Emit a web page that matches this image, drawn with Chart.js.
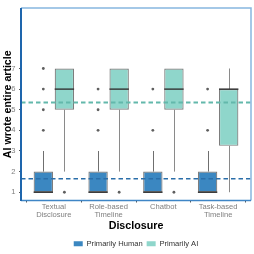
<!DOCTYPE html>
<html><head><meta charset="utf-8">
<script src="https://cdn.jsdelivr.net/npm/chart.js@4"></script>
<style>html,body{margin:0;padding:0;background:#fff}#wrap{width:254px;height:254px}</style>
</head><body><div id="wrap"><canvas id="c" width="254" height="254"></canvas></div>
<script>
const categories = [["Textual","Disclosure"],["Role-based","Timeline"],["Chatbot"],["Task-based","Timeline"]];
const seriesNames = ["Primarily Human","Primarily AI"];
const yTicks = [1,2,3,4,5,6,7];

const humanQ1 = [1,1,1,1];
const humanMedian = [1,1,1,1];
const humanQ3 = [2,2,2,2];
const humanLow = [1,1,1,1];
const humanHigh = [3,3,3,3];
const humanOutliers = [[4,5,6,7],[4,5,6],[4,6],[4,6]];
const humanMean = 1.66;

const aiQ1 = [5,5,5,3.25];
const aiMedian = [6,6,6,6];
const aiQ3 = [7,7,7,6];
const aiLow = [2,2,2,1];
const aiHigh = [7,7,7,7];
const aiOutliers = [[1],[1],[1],[]];
const aiMean = 5.35;

const FONT = "'Liberation Sans', Arial, sans-serif";
const groups = [
  {q1:humanQ1, med:humanMedian, q3:humanQ3, lo:humanLow, hi:humanHigh, out:humanOutliers, mean:humanMean,
   fill:'#3b87c1', whisker:'#6f6f6f', dash:'#2a6ea9', dashW:1.5},
  {q1:aiQ1, med:aiMedian, q3:aiQ3, lo:aiLow, hi:aiHigh, out:aiOutliers, mean:aiMean,
   fill:'#8fd6cb', whisker:'#8a8a8a', dash:'#63b8ab', dashW:1.9}
];

const boxExtras = {
  id:'boxExtras',
  beforeDatasetsDraw(chart){
    const ctx=chart.ctx, ys=chart.scales.y;
    ctx.save();
    groups.forEach((g,di)=>{
      chart.getDatasetMeta(di).data.forEach((bar,i)=>{
        const x=Math.round(bar.x)+0.5;
        ctx.strokeStyle=g.whisker; ctx.lineWidth=1;
        ctx.beginPath();
        ctx.moveTo(x, ys.getPixelForValue(g.q3[i])); ctx.lineTo(x, ys.getPixelForValue(g.hi[i]));
        ctx.moveTo(x, ys.getPixelForValue(g.q1[i])); ctx.lineTo(x, ys.getPixelForValue(g.lo[i]));
        ctx.stroke();
      });
    });
    ctx.restore();
  },
  afterDatasetsDraw(chart){
    const ctx=chart.ctx, ys=chart.scales.y, a=chart.chartArea;
    ctx.save();
    groups.forEach((g,di)=>{
      chart.getDatasetMeta(di).data.forEach((bar,i)=>{
        const x=bar.x, w=bar.width;
        ctx.strokeStyle='#333'; ctx.lineWidth=1.4;
        const my=ys.getPixelForValue(g.med[i]);
        ctx.beginPath(); ctx.moveTo(x-w/2,my); ctx.lineTo(x+w/2,my); ctx.stroke();
        ctx.fillStyle='#5f5f5f';
        g.out[i].forEach(v=>{
          ctx.beginPath(); ctx.arc(x, ys.getPixelForValue(v), 1.4, 0, Math.PI*2); ctx.fill();
        });
      });
    });
    groups.forEach(g=>{
      const yy=ys.getPixelForValue(g.mean);
      ctx.strokeStyle=g.dash; ctx.lineWidth=g.dashW; ctx.setLineDash([4.5,3]);
      ctx.beginPath(); ctx.moveTo(a.left,yy); ctx.lineTo(a.right,yy); ctx.stroke();
    });
    ctx.setLineDash([]);
    ctx.lineWidth=1.5;
    ctx.strokeStyle='#86b6e0';
    ctx.beginPath(); ctx.moveTo(a.left,a.top); ctx.lineTo(a.right,a.top); ctx.lineTo(a.right,a.bottom); ctx.stroke();
    ctx.strokeStyle='#3f86c6';
    ctx.beginPath(); ctx.moveTo(a.left,a.bottom); ctx.lineTo(a.right,a.bottom); ctx.stroke();
    ctx.strokeStyle='#1e66ad'; ctx.lineWidth=2;
    ctx.beginPath(); ctx.moveTo(a.left,a.top); ctx.lineTo(a.left,a.bottom+0.5); ctx.stroke();
    ctx.restore();
  }
};

const datasets = groups.map((g,di)=>({
  label: seriesNames[di],
  data: categories.map((c,i)=>({x:i+1, y:[g.q1[i], g.q3[i]]})),
  backgroundColor: g.fill,
  borderColor: '#7d7d7d',
  borderWidth: 1.2,
  borderSkipped: false,
  categoryPercentage: 0.77,
  barPercentage: 0.92
}));

new Chart(document.getElementById('c'), {
  type:'bar',
  data:{datasets},
  plugins:[boxExtras],
  options:{
    responsive:false, animation:false, devicePixelRatio:1,
    layout:{padding:{left:0,right:3,top:2,bottom:-3.6}},
    plugins:{
      tooltip:{enabled:false},
      legend:{position:'bottom', fullSize:false,
        labels:{boxWidth:9, boxHeight:5, padding:4, color:'#333', font:{family:FONT,size:7.6},
          generateLabels(chart){
            return chart.data.datasets.map((d,i)=>({text:d.label, fillStyle:d.backgroundColor, strokeStyle:d.backgroundColor, lineWidth:0, datasetIndex:i, fontColor:'#333'}));
          }}}
    },
    scales:{
      x:{type:'linear', min:0.4, max:4.6, offset:false,
        afterBuildTicks(s){ s.ticks = categories.map((c,i)=>({value:i+1})); },
        afterFit(s){ s.height = 35.5; },
        ticks:{autoSkip:false, maxRotation:0, padding:0, color:'#7f7f7f',
          font:{family:FONT,size:7.6,lineHeight:1.05},
          callback(v){ return categories[v-1]; }},
        grid:{drawOnChartArea:false, tickLength:2, color:'#555'},
        border:{display:false},
        title:{display:true, text:'Disclosure', color:'#000', font:{family:FONT,size:10.7,weight:'bold'}, padding:{top:0,bottom:4}}
      },
      y:{min:0.6, max:9.93,
        afterBuildTicks(s){ s.ticks = yTicks.map(v=>({value:v})); },
        afterFit(s){ s.width = 21; },
        ticks:{padding:3.5, color:'#7f7f7f', font:{family:FONT,size:7.6}},
        grid:{drawOnChartArea:false, tickLength:2, color:'#555'},
        border:{display:false},
        title:{display:true, text:'AI wrote entire article', color:'#000', font:{family:FONT,size:10.6,weight:'bold'}, padding:{top:1.5,bottom:0}}
      }
    }
  }
});
</script></body></html>
